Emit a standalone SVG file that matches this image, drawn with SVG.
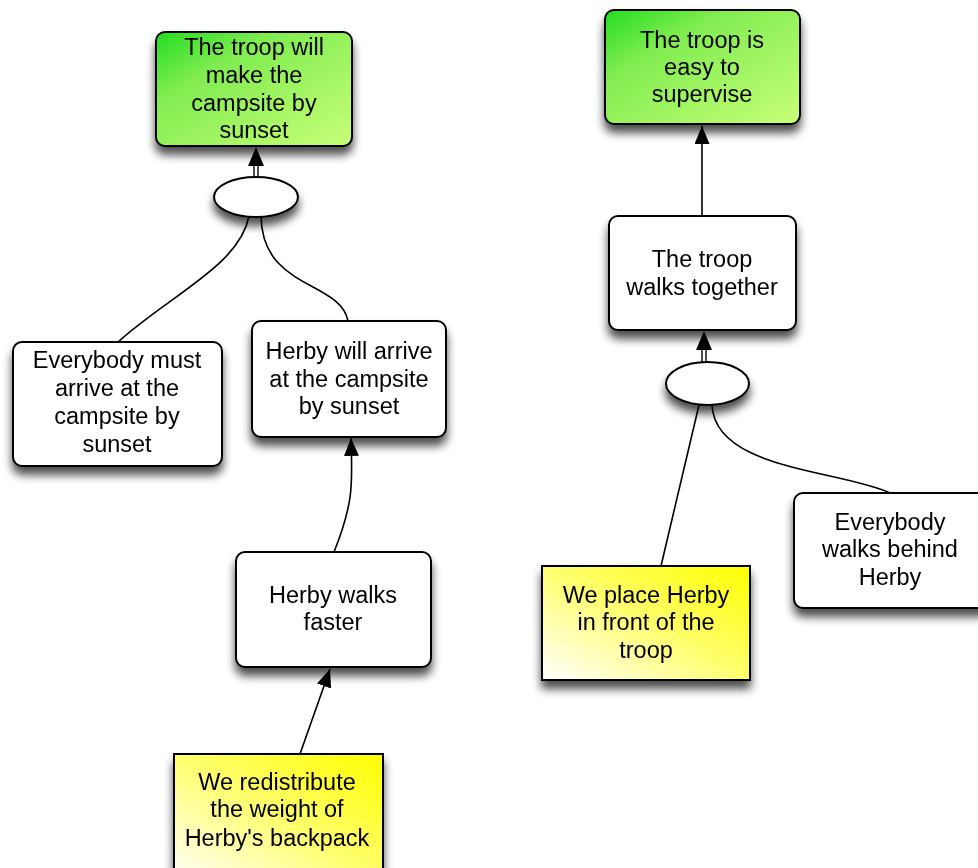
<svg xmlns="http://www.w3.org/2000/svg" width="978" height="868" viewBox="0 0 978 868">
  <defs>
    <linearGradient id="gGreen" x1="0" y1="0" x2="1" y2="1">
      <stop offset="0" stop-color="#22dd22"/>
      <stop offset="0.3" stop-color="#80ec50"/>
      <stop offset="1" stop-color="#c8ff78"/>
    </linearGradient>
    <linearGradient id="gYellow" x1="0" y1="1" x2="1" y2="0">
      <stop offset="0" stop-color="#ffffff"/>
      <stop offset="0.5" stop-color="#ffff70"/>
      <stop offset="1" stop-color="#ffff00"/>
    </linearGradient>
    <filter id="shadow" x="-20%" y="-20%" width="140%" height="160%">
      <feGaussianBlur in="SourceAlpha" stdDeviation="5"/>
      <feOffset dx="0" dy="8" result="b"/>
      <feComponentTransfer><feFuncA type="linear" slope="0.7"/></feComponentTransfer>
      <feMerge><feMergeNode/><feMergeNode in="SourceGraphic"/></feMerge>
    </filter>
    <marker id="head" viewBox="0 0 18 15" refX="18" refY="7.5" markerWidth="18" markerHeight="15" markerUnits="userSpaceOnUse" orient="auto">
      <path d="M0,0 L18,7.5 L0,15 Z" fill="#000"/>
    </marker>
  </defs>
  <style>
    .box { stroke: #000; stroke-width: 2; }
    .plain { fill: #fff; }
    .goal { fill: url(#gGreen); }
    .act { fill: url(#gYellow); }
    .oval { fill: #fff; stroke: #000; stroke-width: 2; }
    .edge { fill: none; stroke: #000; stroke-width: 1.6; }
    .dbl { fill: none; stroke: #000; stroke-width: 1.4; }
    text { font-family: "Liberation Sans", Arial, sans-serif; font-size: 23.5px; fill: #000; text-anchor: middle; }
  </style>

  <g id="connectors">
    <!-- left tree -->
    <path class="edge" d="M249,216 C240,265 170,295 118,342"/>
    <path class="edge" d="M261,216 C262,290 340,280 348,321"/>
    <path class="edge" d="M334,552 C355,500 352,480 351,438" marker-end="url(#head)"/>
    <path class="edge" d="M300,754 L330,669" marker-end="url(#head)"/>
    <line class="dbl" x1="254" y1="177" x2="254" y2="163"/>
    <line class="dbl" x1="258" y1="177" x2="258" y2="163"/>
    <path d="M256,147 L264,166 L248,166 Z" fill="#000"/>
    <!-- right tree -->
    <path class="edge" d="M702,216 L702,126" marker-end="url(#head)"/>
    <line class="dbl" x1="702" y1="362" x2="702" y2="348"/>
    <line class="dbl" x1="706" y1="362" x2="706" y2="348"/>
    <path d="M704,331 L712,350 L696,350 Z" fill="#000"/>
    <path class="edge" d="M699,405 L661,566"/>
    <path class="edge" d="M712,405 C715,470 840,470 890,493"/>
  </g>

  <g id="goal-campsite" filter="url(#shadow)">
    <rect class="box goal" x="156" y="32" width="196" height="114" rx="9"/>
    <text x="254" y="55">The troop will</text>
    <text x="254" y="83">make the</text>
    <text x="254" y="111">campsite by</text>
    <text x="254" y="138">sunset</text>
  </g>

  <g id="and-campsite" filter="url(#shadow)">
    <ellipse class="oval" cx="256" cy="197" rx="42" ry="20"/>
  </g>

  <g id="everybody-arrive" filter="url(#shadow)">
    <rect class="box plain" x="13" y="342" width="209" height="124" rx="9"/>
    <text x="117" y="368">Everybody must</text>
    <text x="117" y="396">arrive at the</text>
    <text x="117" y="424">campsite by</text>
    <text x="117" y="452">sunset</text>
  </g>

  <g id="herby-arrive" filter="url(#shadow)">
    <rect class="box plain" x="252" y="321" width="194" height="116" rx="9"/>
    <text x="349" y="359">Herby will arrive</text>
    <text x="349" y="387">at the campsite</text>
    <text x="349" y="414">by sunset</text>
  </g>

  <g id="herby-faster" filter="url(#shadow)">
    <rect class="box plain" x="236" y="552" width="195" height="115" rx="9"/>
    <text x="333" y="603">Herby walks</text>
    <text x="333" y="630">faster</text>
  </g>

  <g id="redistribute" filter="url(#shadow)">
    <rect class="box act" x="174" y="754" width="209" height="130"/>
    <text x="277" y="790">We redistribute</text>
    <text x="277" y="817">the weight of</text>
    <text x="277" y="846">Herby's backpack</text>
  </g>

  <g id="goal-supervise" filter="url(#shadow)">
    <rect class="box goal" x="605" y="10" width="195" height="114" rx="9"/>
    <text x="702" y="48">The troop is</text>
    <text x="702" y="75">easy to</text>
    <text x="702" y="102">supervise</text>
  </g>

  <g id="walks-together" filter="url(#shadow)">
    <rect class="box plain" x="609" y="216" width="187" height="114" rx="9"/>
    <text x="702" y="267">The troop</text>
    <text x="702" y="295">walks together</text>
  </g>

  <g id="and-together" filter="url(#shadow)">
    <ellipse class="oval" cx="707.5" cy="383.5" rx="41.5" ry="21.5"/>
  </g>

  <g id="place-herby" filter="url(#shadow)">
    <rect class="box act" x="542" y="566" width="208" height="114"/>
    <text x="646" y="603">We place Herby</text>
    <text x="646" y="630">in front of the</text>
    <text x="646" y="658">troop</text>
  </g>

  <g id="walk-behind" filter="url(#shadow)">
    <rect class="box plain" x="794" y="493" width="200" height="115" rx="9"/>
    <text x="890" y="530">Everybody</text>
    <text x="890" y="557">walks behind</text>
    <text x="890" y="585">Herby</text>
  </g>
</svg>
